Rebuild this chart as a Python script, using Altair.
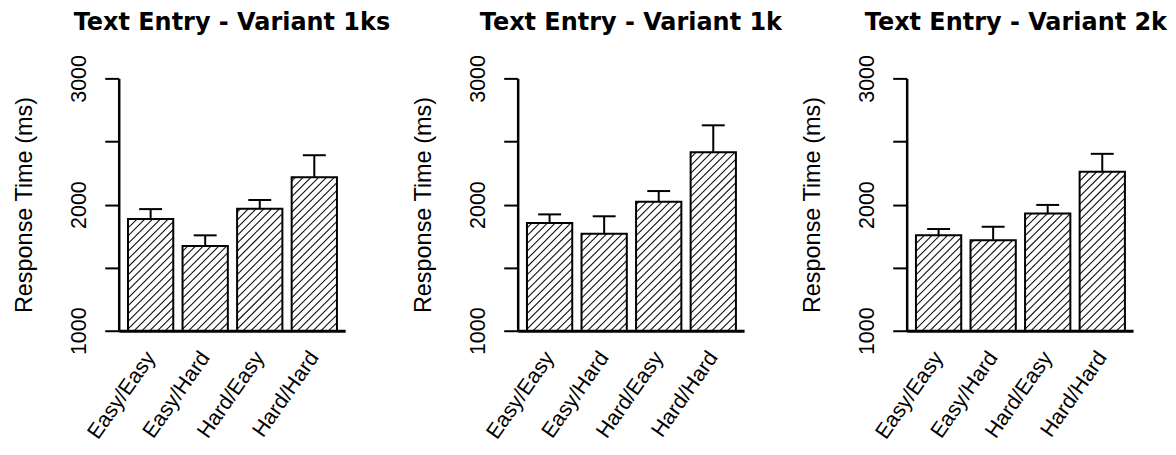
import json
import altair as alt
import pandas as pd

# ---------------- data ----------------
categories = ["Easy/Easy", "Easy/Hard", "Hard/Easy", "Hard/Hard"]
titles = ["Text Entry - Variant 1ks", "Text Entry - Variant 1k", "Text Entry - Variant 2k"]
mean_1ks = [1885, 1672, 1967, 2217]
err_1ks = [79, 84, 69, 174]
mean_1k = [1854, 1769, 2022, 2415]
err_1k = [68, 138, 85, 213]
mean_2k = [1756, 1717, 1929, 2260]
err_2k = [50, 107, 68, 142]
y_ticks = [1000, 1500, 2000, 2500, 3000]

# ---------------- style / layout ----------------
W, H = 227, 253
XMAX = 4.15
BAR_L, BAR_R = 0.17, 1.0
CENTER = (BAR_L + BAR_R) / 2
CAP = 0.21
YMIN, YMAX = y_ticks[0], y_ticks[-1]
SX = W / XMAX                 # px per x unit
SY = H / (YMAX - YMIN)        # px per y unit
R = SX / SY                   # y units per x unit for a 45 degree line
DC = 7.8 / SX                 # hatch spacing (x units)

FONT = "Liberation Sans"

xscale = alt.Scale(domain=[0, XMAX], nice=False, zero=False)
yscale = alt.Scale(domain=[YMIN, YMAX], nice=False, zero=False)

xaxis = alt.Axis(
    values=[i + CENTER for i in range(len(categories))],
    labelExpr=f"{json.dumps(categories)}[round(datum.value - {CENTER})]",
    labelAngle=305, labelAlign="right", labelBaseline="middle",
    labelPadding=23, labelFont=FONT, labelFontSize=21.5, labelColor="black",
    labelFlush=False, labelOverlap=False,
    ticks=False, tickSize=0, grid=False,
    domainWidth=3, domainColor="black", title=None,
)
yaxis = alt.Axis(
    values=y_ticks, format="d",
    labelExpr="datum.value % 1000 == 0 ? datum.label : ''",
    labelAngle=270, labelAlign="center", labelBaseline="middle",
    labelPadding=25, labelFont=FONT, labelFontSize=21.5, labelColor="black",
    labelFlush=False, labelOverlap=False,
    tickSize=14, tickWidth=2, tickColor="black",
    domainWidth=2.5, domainColor="black", grid=False,
    title="Response Time (ms)", titleFont=FONT, titleFontSize=23.5,
    titleFontWeight="normal", titleColor="black", titlePadding=32,
)


def X(f):
    return alt.X(f, type="quantitative", scale=xscale, axis=xaxis)


def Y(f):
    return alt.Y(f, type="quantitative", scale=yscale, axis=yaxis)


def panel(title, means, errs, dx=0):
    df = pd.DataFrame({"cat": categories, "idx": list(range(len(categories))),
                       "mean": means, "err": errs})
    base = alt.Chart(df).transform_calculate(
        xa=f"datum.idx + {BAR_L}",
        xb=f"datum.idx + {BAR_R}",
        xc=f"datum.idx + {CENTER}",
        cl=f"datum.idx + {CENTER - CAP}",
        cr=f"datum.idx + {CENTER + CAP}",
        top="datum.mean + datum.err",
        y0=f"{YMIN}",
    )
    fill = base.mark_bar(fill="white", strokeWidth=0).encode(
        x=X("xa"), x2="xb", y=Y("mean"), y2="y0")

    hatch = base.transform_calculate(
        h=f"(datum.mean - {YMIN}) / {R}",
    ).transform_calculate(
        ks=f"sequence(floor((datum.xa - datum.h) / {DC}), ceil(datum.xb / {DC}) + 1)"
    ).transform_flatten(["ks"], as_=["k"]).transform_calculate(
        c=f"datum.k * {DC}",
    ).transform_calculate(
        hx1="max(datum.xa, datum.c)",
        hx2="min(datum.xb, datum.c + datum.h)",
    ).transform_filter("datum.hx1 < datum.hx2 - 0.005").transform_calculate(
        hy1=f"{YMIN} + (datum.hx1 - datum.c) * {R}",
        hy2=f"{YMIN} + (datum.hx2 - datum.c) * {R}",
    ).mark_rule(color="#111111", strokeWidth=1.1).encode(
        x=X("hx1"), x2="hx2", y=Y("hy1"), y2="hy2")

    outline = base.mark_bar(fillOpacity=0, stroke="black", strokeWidth=2).encode(
        x=X("xa"), x2="xb", y=Y("mean"), y2="y0")
    stem = base.mark_rule(color="black", strokeWidth=2).encode(
        x=X("xc"), y=Y("mean"), y2="top")
    cap = base.mark_rule(color="black", strokeWidth=2).encode(
        x=X("cl"), x2="cr", y=Y("top"))

    tp = dict(font="DejaVu Sans", fontSize=24, fontWeight="bold", color="black",
              anchor="middle", offset=20)
    if dx:
        tp["dx"] = dx
    return alt.layer(fill, hatch, outline, stem, cap).properties(
        width=W, height=H, title=alt.TitleParams(title, **tp),
    )


p1 = panel(titles[0], mean_1ks, err_1ks)
p2 = panel(titles[1], mean_1k, err_1k)
p3 = panel(titles[2], mean_2k, err_2k, dx=-4)

inner = alt.hconcat(p1, p2, spacing=173, bounds="flush")
chart = alt.hconcat(inner, p3, spacing=18).properties(
    padding={"left": 5, "top": 2, "right": 0, "bottom": 0},
    background="white",
).configure_view(stroke=None)

chart.save("out.html", embed_options={"renderer": "svg", "actions": False})
